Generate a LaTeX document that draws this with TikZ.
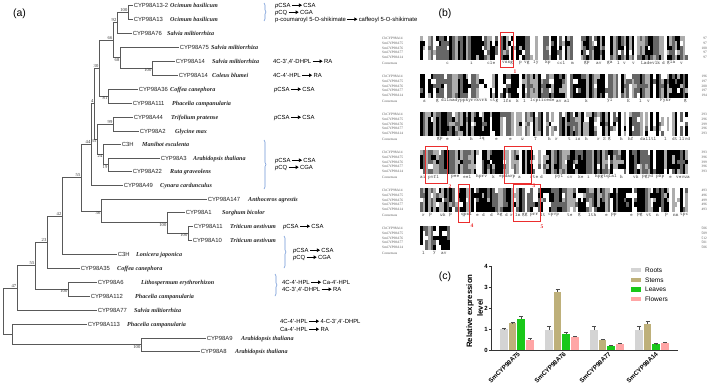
\documentclass[tikz,border=0pt]{standalone}
\usepackage{fontspec}
\setmainfont{Liberation Sans}
\newfontfamily\tnr{Liberation Serif}
\usetikzlibrary{arrows.meta,decorations.pathreplacing}
\definecolor{brkc}{RGB}{110,150,215}
\definecolor{redbox}{RGB}{235,45,45}
\definecolor{cRoot}{RGB}{212,212,212}
\definecolor{cStem}{RGB}{190,176,122}
\definecolor{cLeaf}{RGB}{25,200,25}
\definecolor{cFlow}{RGB}{255,165,165}
\newcommand{\parr}{\,\tikz[baseline=-0.6ex]\draw[line width=0.8pt,-{Triangle[length=3pt,width=3.4pt]}] (0pt,0pt)--(10pt,0pt);\,}
\tikzset{
 br/.style={line width=0.55pt, black!65},
 lname/.style={anchor=west, inner sep=0.6pt, text height=4.2pt, text depth=0pt, font=\fontsize{5.9}{6}\selectfont, text=black!85},
 spn/.style={anchor=west, inner sep=0pt, text height=4.2pt, text depth=0pt, font=\tnr\bfseries\itshape\fontsize{6.1}{6.5}\selectfont, text=black!85},
 bs/.style={inner sep=0.5pt, font=\tnr\fontsize{4.6}{5}\selectfont, text=black!80},
 pw/.style={anchor=west, inner sep=0pt, text height=4.2pt, text depth=0pt, font=\fontsize{5.9}{6}\selectfont},
 brace/.style={draw=brkc, line width=0.6pt, decorate, decoration={brace, amplitude=2pt}},
 panel/.style={inner sep=0pt, font=\fontsize{10.5}{12}\selectfont},
 aname/.style={anchor=west, inner sep=0pt, font=\tnr\fontsize{3.5}{4}\selectfont, text=black!65},
 anum/.style={anchor=east, inner sep=0pt, font=\tnr\fontsize{3.5}{4}\selectfont, text=black!65},
 cons/.style={anchor=west, inner sep=0pt, font=\ttfamily\fontsize{5.1}{5}\selectfont, text=black!70},
 rbox/.style={draw=redbox, line width=0.8pt},
 rlab/.style={inner sep=0pt, text=redbox, font=\tnr\bfseries\fontsize{5.5}{6}\selectfont},
 axis/.style={line width=0.9pt, black!80},
 tlab/.style={anchor=east, inner sep=0pt, font=\bfseries\fontsize{6}{7}\selectfont},
 xl/.style={anchor=east, rotate=45, inner sep=0pt, font=\bfseries\fontsize{6.3}{7}\selectfont},
 leg/.style={anchor=west, inner sep=0pt, font=\fontsize{6.5}{7}\selectfont},
 ylab/.style={rotate=90, inner sep=0pt, font=\bfseries\fontsize{7.8}{9}\selectfont},
 errb/.style={line width=0.6pt, black!70}
}
\begin{document}
\begin{tikzpicture}[x=1pt,y=-1pt]
\useasboundingbox (0,0) rectangle (709,388);
\fill[white] (0,0) rectangle (709,388);
% panel labels
\node[panel] (pa) at (19.5,14) {(a)};
\node[panel] (pb) at (445,14) {(b)};
\node[panel] (pc) at (445,277) {(c)};
% ---------------- tree leaves
\foreach \i/\yy/\nx/\sx/\nm/\spc in {
1/5/133/170/CYP98A13-2/Ocimum basilicum,
2/19/133/170/CYP98A13/Ocimum basilicum,
3/33/132/167/CYP98A76/Salvia miltiorrhiza,
4/47/179/211/CYP98A75/Salvia miltiorrhiza,
5/61/175/212/CYP98A14/Salvia miltiorrhiza,
6/75/178/212/CYP98A14/Coleus blumei,
7/89/138/170/CYP98A36/Coffea canephora,
8/103/132/172/CYP98A111/Phacelia campanularia,
9/117/133/171/CYP98A44/Trifolium pratense,
10/131/139/175/CYP98A2/Glycine max,
11/144/121/142/C3H/Manihot esculenta,
12/158/160/193/CYP98A3/Arabidopsis thaliana,
13/171/132/170/CYP98A22/Ruta graveolens,
14/185/123/160/CYP98A49/Cynara cardunculus,
15/199/207/248/CYP98A147/Anthoceros agrestis,
16/212/185/222/CYP98A1/Sorghum bicolor,
17/226/193/230/CYP98A11/Triticum aestivum,
18/240/192/230/CYP98A10/Triticum aestivum,
19/254/117/136/C3H/Lonicera japonica,
20/268/80/117/CYP98A35/Coffea canephora,
21/282/97/141/CYP98A6/Lithospermum erythrorhizon,
22/296/90/135/CYP98A112/Phacelia campanularia,
23/310/97/134/CYP98A77/Salvia miltiorrhiza,
24/324/87/127/CYP98A113/Phacelia campanularia,
25/338/206/241/CYP98A9/Arabidopsis thaliana,
26/351/200/235/CYP98A8/Arabidopsis thaliana}{
 \node[lname] (L\i) at (\nx,\yy) {\nm};
 \node[spn] (S\i) at (\sx,\yy) {\spc};
}
% internal nodes
\foreach \n/\xx/\yy in {N100a/128/12, N92/117/22.5, N100b/152/68, N68/120/57.5, N66/113/40,
 N81/108/96, N30/99/68, N99/113/124, N19/108/164.5, N24/103/154, N35/97/139, N4/94/103.5,
 N44/91/144, N100d/188/233, N100c/167/222.5, N36/101/211, N55/81/177.5, N42/62/216,
 N23/47/242, N100e/68/289, N55b/35/265.5, N47/17/288, N100f/141/344.5, Nlow/12/334, R/3/311}
 \coordinate (\n) at (\xx,\yy);
\foreach \a/\b in {N100a/L1.west, N100a/L2.west, N92/N100a, N92/L3.west, N100b/L5.west, N100b/L6.west,
 N68/L4.west, N68/N100b, N66/N92, N66/N68, N81/L7.west, N81/L8.west, N30/N66, N30/N81,
 N99/L9.west, N99/L10.west, N19/L12.west, N19/L13.west, N24/L11.west, N24/N19, N35/N99, N35/N24,
 N4/N30, N4/N35, N44/N4, N44/L14.west, N100d/L17.west, N100d/L18.west, N100c/L16.west, N100c/N100d,
 N36/L15.west, N36/N100c, N55/N44, N55/N36, N42/N55, N42/L19.west, N23/N42, N23/L20.west,
 N100e/L21.west, N100e/L22.west, N55b/N23, N55b/N100e, N47/N55b, N47/L23.west,
 N100f/L25.west, N100f/L26.west, Nlow/L24.west, Nlow/N100f, R/N47, R/Nlow}
 \draw[br] (\a) |- (\b);
% bootstrap values
\foreach \n/\t in {N100a/100, N92/92, N66/66, N30/30, N99/99, N4/4, N44/44, N55/55, N42/42, N23/23, N55b/55, N47/47}
 \node[bs, anchor=south east] (b\n) at (\n) {\t};
\foreach \n/\t in {N100b/100, N68/68, N81/81, N19/19, N24/24, N35/35, N100d/100, N100c/100, N36/36, N100e/100, N100f/100}
 \node[bs, anchor=north east] (b\n) at (\n) {\t};
% ---------------- pathway annotations
\coordinate (k1a) at (264,3); \coordinate (k1b) at (264,21);
\coordinate (k2a) at (264,140); \coordinate (k2b) at (264,189);
\coordinate (k3a) at (284,236); \coordinate (k3b) at (284,268);
\coordinate (k4a) at (275,274); \coordinate (k4b) at (275,296);
\draw[brace] (k1a) -- (k1b);
\draw[brace] (k2a) -- (k2b);
\draw[brace] (k3a) -- (k3b);
\draw[brace] (k4a) -- (k4b);
\node[pw] (p1) at (275,5) {\textit{p}CSA\parr CSA};
\node[pw] (p2) at (275,12) {\textit{p}CQ\parr CGA};
\node[pw] (p3) at (275,19) {p-coumaroyl 5-O-shikimate\parr caffeoyl 5-O-shikimate};
\node[pw] (p4) at (273,61) {4C-3',4'-DHPL\parr RA};
\node[pw] (p5) at (273,75) {4C-4'-HPL\parr RA};
\node[pw] (p6) at (274,89) {\textit{p}CSA\parr CSA};
\node[pw] (p7) at (274,117) {\textit{p}CSA\parr CSA};
\node[pw] (p8) at (275,160) {\textit{p}CSA\parr CSA};
\node[pw] (p9) at (275,167) {\textit{p}CQ\parr CGA};
\node[pw] (p10) at (283,226) {\textit{p}CSA\parr CSA};
\node[pw] (p11) at (293,250) {\textit{p}CSA\parr CSA};
\node[pw] (p12) at (293,257) {\textit{p}CQ\parr CGA};
\node[pw] (p13) at (282,282) {4C-4'-HPL\parr Ca-4'-HPL};
\node[pw] (p14) at (282,289) {4C-3',4'-DHPL\parr RA};
\node[pw] (p15) at (280,321) {4C-4'-HPL\parr 4-C-3',4'-DHPL};
\node[pw] (p16) at (280,329) {Ca-4'-HPL\parr RA};
% ---------------- alignment
\pgfmathsetseed{2024}
\foreach \b/\nc in {0/99,1/99,2/99,3/99,4/99,5/10}{
 \pgfmathsetmacro\yb{36+38*\b}
 \foreach \c in {0,...,\nc}{
  \pgfmathsetmacro\rr{rnd}
  \pgfmathtruncatemacro\lv{\rr<0.34 ? 0 : (\rr<0.58 ? 1 : (\rr<0.8 ? 2 : 3))}
  \foreach \r in {0,...,4}{
   \pgfmathsetmacro\ss{rnd}
   \pgfmathtruncatemacro\cl{\ss<0.8 ? \lv : 4*rnd}
   \ifnum\cl<3\relax
    \ifcase\cl\relax \def\cc{black}\or \def\cc{black!60}\or \def\cc{black!32}\fi
    \fill[\cc] ({420+\c*2.68},{\yb+\r*4.8}) rectangle ++(2.75,4.85);
   \fi
  }
 }
 \foreach \r/\nm in {0/CbCYP98A14,1/SmCYP98A75,2/SmCYP98A76,3/SmCYP98A77,4/SmCYP98A14}
  \node[aname] (an\b\r) at (382,{\yb+2.4+\r*4.8}) {\nm};
 \node[aname] (ac\b) at (382,{\yb+27}) {Consensus};
}
\foreach \b/\nl in {0/{97,97,100,97,97},1/{196,197,200,197,194},2/{293,296,299,296,293},3/{393,396,399,396,393},4/{493,496,499,496,493},5/{506,509,512,501,506}}{
 \pgfmathsetmacro\yb{36+38*\b}
 \foreach \v [count=\k from 0] in \nl
  \node[anum] (num\b\k) at (707,{\yb+2.4+\k*4.8}) {\v};
}
% consensus fragments
\foreach \xx/\t in {446/c,470/i,487/cle,502/vssg,519/p,524/vg,533/ly,545/kp,557/ccl,571/m,584/gp,596/av,607/ga,617/l,623/v,632/v,641/Ladevlk,662/d,667/gla,680/v}
 \node[cons] at (\xx,63) {\t};
\foreach \xx/\t in {423/s,436/g,441/dllnadyppkyrvkvrk,490/ctg,503/lfs,516/k,523/l,530/lcpiicede,556/av,564/al,585/k,607/yl,627/E,639/l,647/v,660/Fykr,684/g}
 \node[cons] at (\xx,101) {\t};
\foreach \xx/\t in {437/gp,446/e,458/i,470/h,479/lq,495/e,509/e,521/w,534/T,548/h,555/r,568/t,575/is,585/h,597/r,603/S,608/g,620/h,628/hf,640/dalltl,664/l,672/dt,679/llvd}
 \node[cons] at (\xx,139) {\t};
\foreach \xx/\t in {420/ai,428/pvfl,451/pee,463/eel,476/hprv,492/k,499/epdarp,518/a,530/rte,540/d,555/pyl,567/cv,578/ke,587/i,595/hpgtqlal,620/h,633/vk,642/pgyd,656/pkp,669/e,676/vevwa}
 \node[cons] at (\xx,177) {\t};
\foreach \xx/\t in {422/r,429/p,440/wk,449/p,461/qpsl,476/e,482/d,490/d,497/kg,505/d,510/r,515/ln,522/gg,530/prr,540/lt,548/cpvp,567/te,578/g,588/lth,605/e,611/pp,630/e,637/pg,646/vt,656/n,665/p,673/nn,680/tpc}
 \node[cons] at (\xx,215) {\t};
\foreach \xx/\t in {422/l,433/y,441/av}
 \node[cons] at (\xx,253) {\t};
% red boxes
\draw[rbox] (500,32) rectangle (513,67);
\draw[rbox] (425,146) rectangle (447,183);
\draw[rbox] (504,146) rectangle (531,183);
\draw[rbox] (458,184) rectangle (469,222);
\draw[rbox] (513,184) rectangle (540,221);
\node[rlab] (r1) at (515,72) {1};
\node[rlab] (r2) at (450,187) {2};
\node[rlab] (r3) at (534,186) {3};
\node[rlab] (r4) at (472,226) {4};
\node[rlab] (r5) at (542,227) {5};
% ---------------- bar chart
\foreach \xx/\h/\e/\c in {
 500/1.0/0.02/cRoot, 508.7/1.28/0.04/cStem, 517.4/1.48/0.12/cLeaf, 526.1/0.48/0.1/cFlow,
 545/0.96/0.16/cRoot, 553.7/2.8/0.13/cStem, 562.4/0.75/0.08/cLeaf, 571.1/0.64/0.03/cFlow,
 590/0.96/0.19/cRoot, 598.7/0.48/0.05/cStem, 607.4/0.19/0.05/cLeaf, 616.1/0.29/0.03/cFlow,
 635/0.96/0.2/cRoot, 643.7/1.23/0.13/cStem, 652.4/0.27/0.03/cLeaf, 661.1/0.32/0.05/cFlow}{
 \fill[\c] (\xx,350) rectangle ({\xx+7.7},{350-20.8*\h});
 \draw[errb] ({\xx+3.85},{350-20.8*\h}) -- ({\xx+3.85},{350-20.8*(\h+\e)});
 \draw[errb] ({\xx+1.85},{350-20.8*(\h+\e)}) -- ({\xx+5.85},{350-20.8*(\h+\e)});
}
\coordinate (ax0) at (491.5,266.8); \coordinate (ax1) at (491.5,350); \coordinate (ax2) at (678,350);
\draw[axis] (ax0) -- (ax1) -- (ax2);
\foreach \v in {0,...,4}{
 \draw[axis] (489,{350-20.8*\v}) -- (491.5,{350-20.8*\v});
 \node[tlab] (t\v) at (488,{350-20.8*\v}) {\v};
}
\node[ylab] (yl1) at (470,311) {Relative expression};
\node[ylab] (yl2) at (480,308) {level};
\node[xl] (x1) at (519,353) {SmCYP98A75};
\node[xl] (x2) at (565,353) {SmCYP98A76};
\node[xl] (x3) at (610,353) {SmCYP98A77};
\node[xl] (x4) at (657,353) {SmCYP98A14};
\foreach \yy/\c/\t in {270/cRoot/Roots, 280/cStem/Stems, 289.3/cLeaf/Leaves, 299/cFlow/Flowers}{
 \fill[\c] (631,{\yy-2.3}) rectangle (641,{\yy+2.3});
 \node[leg] (lg\t) at (645,\yy) {\t};
}
\end{tikzpicture}
\end{document}
